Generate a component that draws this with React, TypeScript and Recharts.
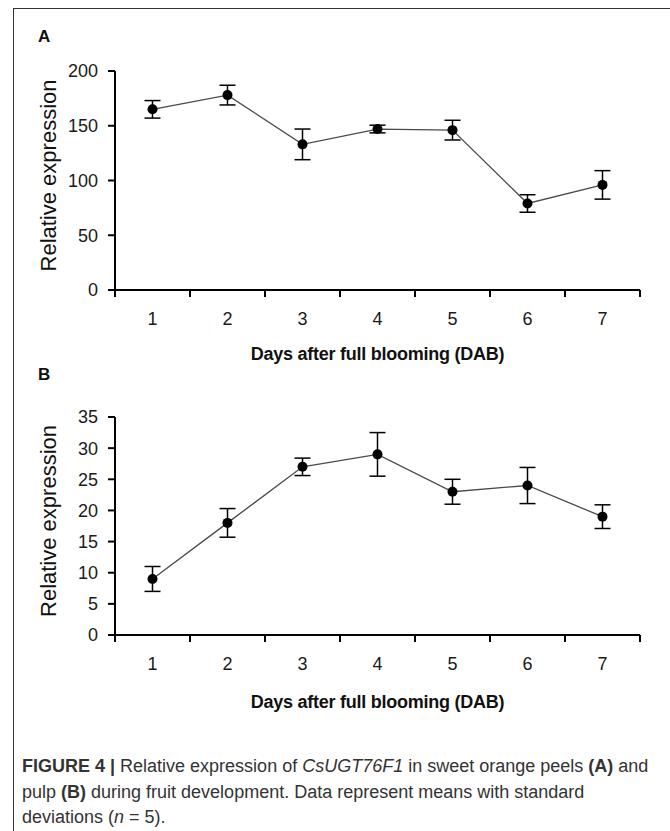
import React from "react";
import { ErrorBar, Label, Line, LineChart, XAxis, YAxis } from "recharts";

// days after full blooming
const days = [1, 2, 3, 4, 5, 6, 7];
const dayEdges = [0.5, 1.5, 2.5, 3.5, 4.5, 5.5, 6.5, 7.5];

// (A) peels
const peelMean = [165, 178, 133, 147, 146, 79, 96];
const peelSd = [8, 9, 14, 3.5, 9, 8, 13];
const peelTicks = [0, 50, 100, 150, 200];

// (B) pulp
const pulpMean = [9, 18, 27, 29, 23, 24, 19];
const pulpSd = [2, 2.3, 1.4, 3.5, 2, 2.9, 1.9];
const pulpTicks = [0, 5, 10, 15, 20, 25, 30, 35];

const xTitle = "Days after full blooming (DAB)";
const yTitle = "Relative expression";

const FONT = "'Liberation Sans', Arial, sans-serif";
const W = 670;
const Y_AXIS_W = 115;
const RIGHT = 30;
const BAND = (W - Y_AXIS_W - RIGHT) / days.length;

function toRows(mean: number[], sd: number[]) {
  return days.map((d, i) => ({ day: d, mean: mean[i], sd: sd[i] }));
}

// tick marks sit on category edges (Excel style); labels go mid-band
function DayTick(props: any) {
  const { x, y, payload, index } = props;
  if (index >= days.length) return null;
  return (
    <text
      x={x + BAND / 2}
      y={y}
      dy="0.71em"
      textAnchor="middle"
      fill="#1a1a1a"
      fontSize={18}
      fontFamily={FONT}
    >
      {days[index] ?? payload.value}
    </text>
  );
}

function Panel({
  data,
  ticks,
  top,
  marginTop,
  plotHeight,
  titleOffset,
}: {
  data: Array<{ day: number; mean: number; sd: number }>;
  ticks: number[];
  top: number;
  marginTop: number;
  plotHeight: number;
  titleOffset: number;
}) {
  const max = ticks[ticks.length - 1];
  const xAxisHeight = 375 - marginTop - plotHeight;
  return (
    <div style={{ position: "absolute", left: 0, top }}>
      <LineChart
        width={W}
        height={375}
        data={data}
        margin={{ top: marginTop, right: RIGHT, left: 0, bottom: 0 }}
      >
        <YAxis
          type="number"
          domain={[0, max]}
          ticks={ticks}
          width={Y_AXIS_W}
          axisLine={{ stroke: "#000", strokeWidth: 2 }}
          tickLine={{ stroke: "#000", strokeWidth: 2 }}
          tickSize={7}
          tickMargin={10}
          tick={{ fill: "#1a1a1a", fontSize: 18, fontFamily: FONT }}
        >
          <Label
            value={yTitle}
            angle={-90}
            position="center"
            dx={-9}
            dy={-5}
            style={{ fill: "#111", fontSize: 22, fontFamily: FONT }}
          />
        </YAxis>
        <XAxis
          type="number"
          dataKey="day"
          domain={[0.5, 7.5]}
          ticks={dayEdges}
          interval={0}
          height={xAxisHeight}
          axisLine={{ stroke: "#000", strokeWidth: 2 }}
          tickLine={{ stroke: "#000", strokeWidth: 2 }}
          tickSize={7}
          tickMargin={15}
          tick={<DayTick />}
        >
          <Label
            value={xTitle}
            position="insideBottom"
            offset={titleOffset}
            style={{
              fill: "#111",
              fontSize: 18,
              fontWeight: "bold",
              fontFamily: FONT,
              letterSpacing: -0.25,
            }}
          />
        </XAxis>
        <Line
          type="linear"
          dataKey="mean"
          stroke="#4a4a4a"
          strokeWidth={1.3}
          dot={{ r: 5, fill: "#000", stroke: "#000", strokeWidth: 0 }}
          isAnimationActive={false}
        >
          <ErrorBar dataKey="sd" width={8} stroke="#000" strokeWidth={1.5} direction="y" />
        </Line>
      </LineChart>
    </div>
  );
}

export default function App() {
  const panelLetter: React.CSSProperties = {
    position: "absolute",
    left: 38,
    fontFamily: FONT,
    fontWeight: "bold",
    fontSize: 17,
    color: "#111",
    lineHeight: "17px",
  };
  return (
    <div
      style={{
        position: "absolute",
        left: 0,
        top: 0,
        width: W,
        height: 831,
        background: "#fff",
        overflow: "hidden",
      }}
    >
      <div
        style={{
          position: "absolute",
          left: 13,
          top: 8,
          width: 670,
          height: 840,
          borderTop: "1.5px solid #333",
          borderLeft: "1.5px solid #333",
        }}
      />
      <div style={{ ...panelLetter, top: 28 }}>A</div>
      <Panel
        data={toRows(peelMean, peelSd)}
        ticks={peelTicks}
        top={0}
        marginTop={71}
        plotHeight={219}
        titleOffset={15}
      />
      <div style={{ ...panelLetter, top: 366 }}>B</div>
      <Panel
        data={toRows(pulpMean, pulpSd)}
        ticks={pulpTicks}
        top={340}
        marginTop={77}
        plotHeight={218}
        titleOffset={7}
      />
      <div
        style={{
          position: "absolute",
          left: 22,
          top: 754,
          fontFamily: FONT,
          fontSize: 18,
          lineHeight: "25.5px",
          color: "#333",
          whiteSpace: "nowrap",
        }}
      >
        <b>FIGURE 4 |</b> Relative expression of <i>CsUGT76F1</i> in sweet orange peels <b>(A)</b> and
        <br />
        pulp <b>(B)</b> during fruit development. Data represent means with standard
        <br />
        deviations (<i>n</i> = 5).
      </div>
    </div>
  );
}
